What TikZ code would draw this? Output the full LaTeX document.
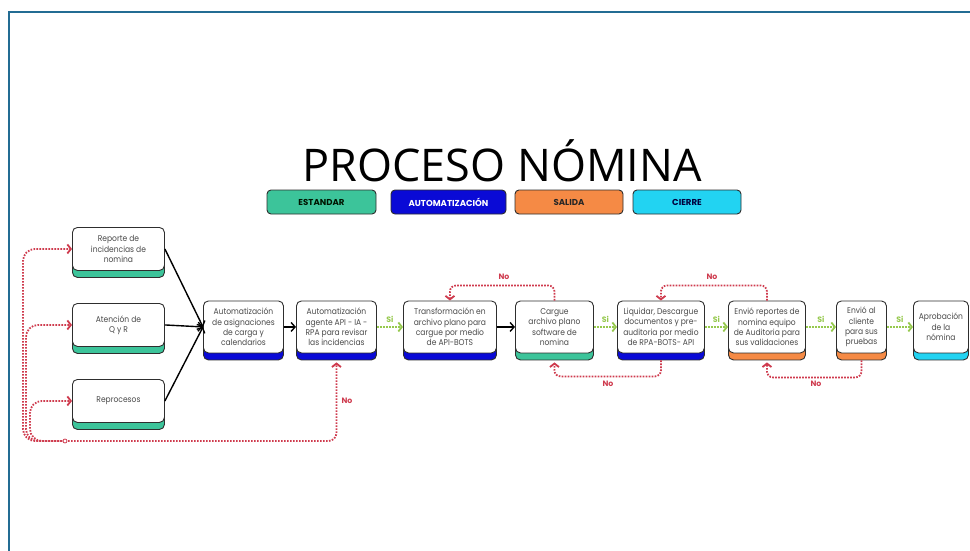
\documentclass[tikz,border=0pt]{standalone}
\usepackage{fontspec}
\setmainfont{Poppins}
\newfontfamily\boxfont{Poppins}[FakeStretch=0.9]
\newfontfamily\titlefont{Open Sans}
\usetikzlibrary{arrows.meta,shadows}

\definecolor{frameblue}{HTML}{236C93}
\definecolor{stdgreen}{HTML}{3CC49A}
\definecolor{autoblue}{HTML}{0A0AD6}
\definecolor{outorange}{HTML}{F58A45}
\definecolor{closecyan}{HTML}{22D3F2}
\definecolor{nored}{HTML}{CF3B4E}
\definecolor{sigreen}{HTML}{96C94E}
\definecolor{boxtext}{HTML}{4A4A4A}
\definecolor{edgegray}{HTML}{2E2E2E}

\tikzset{
  proc/.style={draw=edgegray, line width=0.9pt, fill=white, rounded corners=5pt,
    align=center, inner sep=0pt, text=boxtext,
    font=\boxfont\fontsize{8.4}{10.3}\selectfont,
    copy shadow={shadow xshift=0pt, shadow yshift=-7pt, fill=#1,
      draw=edgegray, line width=0.9pt}},
  legend/.style={draw=edgegray, line width=0.9pt, fill=#1, rounded corners=4pt,
    minimum height=24pt, inner sep=0pt, font=\bfseries\fontsize{8.6}{10}\selectfont},
  blk/.style={draw=black, line width=1.4pt, -{Straight Barb[length=4pt,width=9pt]}},
  yes/.style={draw=sigreen, line width=1.8pt, dash pattern=on 1.6pt off 1.4pt,
    -{Straight Barb[length=3.5pt,width=9pt]}},
  noarr/.style={draw=nored, line width=1.8pt, dash pattern=on 1.6pt off 1.4pt,
    -{Straight Barb[length=3.5pt,width=9pt]}},
  silbl/.style={text=sigreen, font=\bfseries\fontsize{7.8}{9}\selectfont, inner sep=1pt},
  nolbl/.style={text=nored, font=\bfseries\fontsize{7.8}{9}\selectfont, inner sep=1pt},
}

\begin{document}
\begin{tikzpicture}[x=1pt, y=-1pt]
\useasboundingbox (0,0) rectangle (970,551);
\fill[white] (0,0) rectangle (970,551);

% frame on the left and top edges
\draw[frameblue, line width=2.2pt] (9,551) -- (9,12) -- (970,12);

% title
\node[font=\titlefont\fontsize{45}{50}\selectfont] (title) at (502,161) {PROCESO NÓMINA};

% legend
\node[legend=stdgreen, minimum width=109pt, text=black!80!green!40!black] (lgstd) at (321.5,202) {ESTANDAR};
\node[legend=autoblue, minimum width=115pt, text=white] (lgauto) at (448.5,202) {AUTOMATIZACIÓN};
\node[legend=outorange, minimum width=108pt, text=black!85] (lgout) at (569,202) {SALIDA};
\node[legend=closecyan, minimum width=108pt, text=black!60!blue!60!black] (lgclose) at (687,202) {CIERRE};

% input boxes
\node[proc=stdgreen, minimum width=92pt, minimum height=43pt, anchor=north west]
  (rep) at (72,227) {Reporte de\\incidencias de\\nomina};
\node[proc=stdgreen, minimum width=92pt, minimum height=43pt, anchor=north west]
  (aten) at (72,303) {Atención de\\Q y R};
\node[proc=stdgreen, minimum width=92pt, minimum height=43pt, anchor=north west]
  (repro) at (72,379) {Reprocesos};

% main chain
\node[proc=autoblue, minimum width=80pt, minimum height=52pt, anchor=north west]
  (asig) at (203,300.5) {Automatización\\de asignaciones\\de carga y\\calendarios};
\node[proc=autoblue, minimum width=80pt, minimum height=52pt, anchor=north west]
  (agent) at (296,300.5) {Automatización\\agente API - IA -\\RPA para revisar\\las incidencias};
\node[proc=autoblue, minimum width=93pt, minimum height=52pt, anchor=north west]
  (trans) at (403,300.5) {Transformación en\\archivo plano para\\cargue por medio\\de API-BOTS};
\node[proc=stdgreen, minimum width=78pt, minimum height=52pt, anchor=north west]
  (carg) at (515,300.5) {Cargue\\archivo plano\\software de\\nomina};
\node[proc=autoblue, minimum width=87pt, minimum height=52pt, anchor=north west]
  (liq) at (617,300.5) {Liquidar, Descargue\\documentos y pre-\\auditoria por medio\\de RPA-BOTS- API};
\node[proc=outorange, minimum width=77pt, minimum height=52pt, anchor=north west]
  (env) at (728,300.5) {Envió reportes de\\nomina equipo\\de Auditoria para\\sus validaciones};
\node[proc=outorange, minimum width=50pt, minimum height=52pt, anchor=north west]
  (cli) at (836,300.5) {Envió al\\cliente\\para sus\\pruebas};
\node[proc=closecyan, minimum width=55pt, minimum height=52pt, anchor=north west]
  (apr) at (913,300.5) {Aprobación\\de la\\nómina};

% solid connectors
\draw[blk] (rep.east) -- (asig.west);
\draw[blk] (aten.east) -- (asig.west);
\draw[blk] (repro.east) -- (asig.west);
\draw[blk] (asig.east) -- (agent.west);
\draw[blk] (trans.east) -- (carg.west);

% "Si" connectors
\draw[yes] (agent.east) -- node[above=2pt, silbl] {Si} (trans.west);
\draw[yes] (carg.east) -- node[above=2pt, silbl] {Si} (liq.west);
\draw[yes] (liq.east) -- node[above=2pt, silbl] {Si} (env.west);
\draw[yes] (env.east) -- node[above=2pt, silbl] {Si} (cli.west);
\draw[yes] (cli.east) -- node[above=2pt, silbl] {Si} (apr.west);

% "No" loops over the top
\draw[noarr, rounded corners=6pt] (carg.north) -- ([yshift=15pt]carg.north) -| (trans.north);
\node[nolbl] (no1) at (504,277) {No};
\draw[noarr, rounded corners=6pt] (env.north) -- ([yshift=15pt]env.north) -| (liq.north);
\node[nolbl] (no2) at (712,277) {No};

% "No" loops underneath
\draw[noarr, rounded corners=6pt] ([yshift=-7pt]liq.south) -- ([yshift=-23pt]liq.south) -| ([yshift=-9pt]carg.south);
\node[nolbl] (no3) at (608,384) {No};
\draw[noarr, rounded corners=6pt] ([yshift=-7pt]cli.south) -- ([yshift=-24pt]cli.south) -| ([yshift=-9pt]env.south);
\node[nolbl] (no4) at (816,384) {No};

% return path back to the inputs
\coordinate (hub) at (65,441);
\draw[noarr, rounded corners=12pt] (hub) -| ([xshift=-49pt]rep.west) -- (rep.west);
\draw[noarr, rounded corners=12pt] (hub) -| ([xshift=-46pt]aten.west) -- (aten.west);
\draw[noarr, rounded corners=12pt] (hub) -| ([xshift=-42pt]repro.west) -- (repro.west);
\draw[noarr, rounded corners=8pt] (hub) -| ([yshift=-9pt]agent.south);
\node[nolbl] (no5) at (347,401) {No};
\node[circle, draw=nored, fill=white, line width=0.8pt, inner sep=0pt, minimum size=4pt] (hubdot) at (hub) {};
\end{tikzpicture}
\end{document}
